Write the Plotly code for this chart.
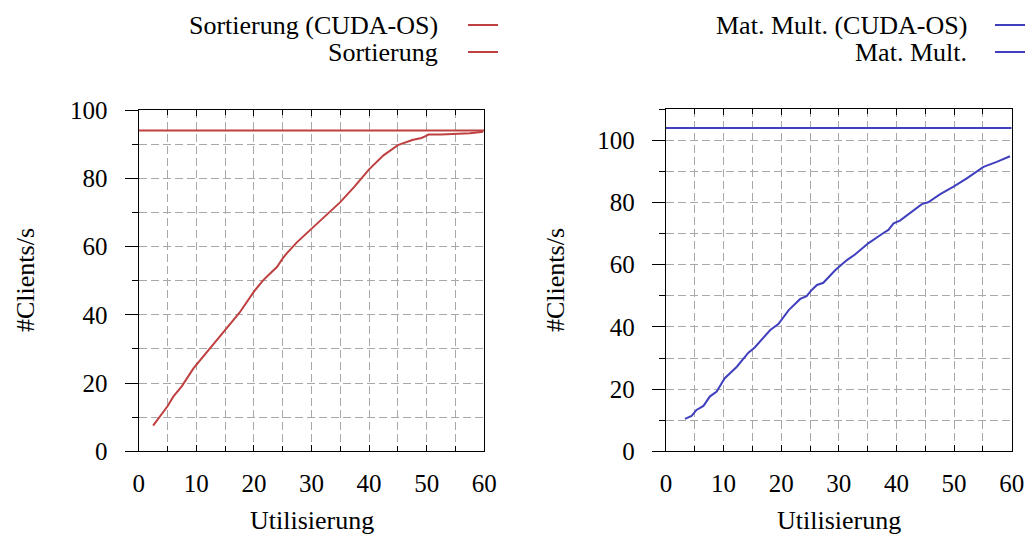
import plotly.graph_objects as go

# ---- data ----
sort_x = [2.5, 5, 6, 7.5, 9.5, 10, 12.5, 13, 15, 16.4, 17.5, 20, 21.6, 22.5, 24, 25, 25.7, 27.5,
          29.7, 30, 32.5, 33.8, 35, 37.5, 39.6, 40, 42.5, 45, 47.5, 49.1, 50, 50.3, 52.5, 54.7, 55, 57.5, 59.8]
sort_y = [7.5, 13.2, 16.0, 19.1, 24.3, 25.3, 30.4, 31.6, 35.5, 38.4, 40.6, 46.8, 50.1, 51.6, 54.0, 56.5, 58.0, 61.3,
          64.8, 65.3, 69.0, 71.1, 73.0, 77.6, 81.9, 82.6, 86.7, 89.7, 91.2, 91.8, 92.5, 92.8, 92.8, 92.9, 92.9, 93.2, 93.6]
sort_base = 94.0

mm_x = [3.3, 4.45, 5.3, 6.5, 7.6, 8.8, 10.2, 12.3, 14.3, 15.4, 18.1, 19.5, 21.3, 23.3, 24.4, 25.3, 26.2, 27.3,
        29.4, 31.4, 32.8, 35.1, 37.8, 38.6, 39.5, 40.6, 44.4, 45.5, 47.6, 49.9, 52.2, 54.2, 55.1, 57.4, 59.7]
mm_y = [10.4, 11.35, 13.3, 14.6, 17.6, 19.2, 23.5, 27.2, 31.7, 33.4, 39.0, 40.9, 45.4, 49.0, 49.9, 51.9, 53.5, 54.2,
        58.3, 61.5, 63.3, 66.9, 70.3, 71.2, 73.3, 74.2, 79.5, 80.1, 82.7, 85.1, 87.8, 90.2, 91.5, 93.1, 94.9]
mm_base = 104.0

x_range = [0, 60]
x_ticks = [0, 10, 20, 30, 40, 50, 60]
y_ticks = [0, 20, 40, 60, 80, 100]

RED = "#BF4040"
BLUE = "#4040BF"
FONT = "Liberation Serif"
FS_TICK = 25
FS_TEXT = 26
GRID = "#a8a8a8"

fig = go.Figure()
fig.add_trace(go.Scatter(x=sort_x, y=sort_y, mode="lines", line=dict(color=RED, width=2),
                         name="Sortierung (CUDA-OS)", xaxis="x", yaxis="y", showlegend=False))
fig.add_trace(go.Scatter(x=x_range, y=[sort_base, sort_base], mode="lines", line=dict(color=RED, width=2),
                         name="Sortierung", xaxis="x", yaxis="y", showlegend=False))
fig.add_trace(go.Scatter(x=mm_x, y=mm_y, mode="lines", line=dict(color=BLUE, width=2),
                         name="Mat. Mult. (CUDA-OS)", xaxis="x2", yaxis="y2", showlegend=False))
fig.add_trace(go.Scatter(x=x_range, y=[mm_base, mm_base], mode="lines", line=dict(color=BLUE, width=2),
                         name="Mat. Mult.", xaxis="x2", yaxis="y2", showlegend=False))


def xaxis(domain, anchor):
    return dict(domain=domain, anchor=anchor, range=x_range, tickvals=x_ticks, automargin=False,
                showline=True, linecolor="black", linewidth=1.3, mirror="ticks",
                ticks="inside", ticklen=6, tickcolor="black", tickwidth=1.2,
                showgrid=True, gridcolor=GRID, griddash="8px,4px", gridwidth=1,
                minor=dict(dtick=5, tick0=0, ticks="inside", ticklen=5, tickcolor="black",
                           showgrid=True, gridcolor=GRID, griddash="8px,4px", gridwidth=1),
                zeroline=False, ticklabelstandoff=10,
                tickfont=dict(family=FONT, size=FS_TICK, color="black"))


def yaxis(domain, anchor, rng):
    return dict(domain=domain, anchor=anchor, range=rng, tickvals=y_ticks, automargin=False,
                showline=True, linecolor="black", linewidth=1.3, mirror=True,
                ticks="outside", ticklen=13, tickcolor="black", tickwidth=1.2,
                showgrid=True, gridcolor=GRID, griddash="8px,4px", gridwidth=1,
                minor=dict(dtick=10, tick0=0, ticks="outside", ticklen=6, tickcolor="black",
                           showgrid=True, gridcolor=GRID, griddash="8px,4px", gridwidth=1),
                zeroline=False, ticklabelstandoff=12,
                tickfont=dict(family=FONT, size=FS_TICK, color="black"))


fig.update_layout(
    width=1026, height=534, autosize=False,
    margin=dict(l=0, r=0, t=0, b=0, pad=0, autoexpand=False),
    paper_bgcolor="white", plot_bgcolor="white",
    font=dict(family=FONT, size=FS_TEXT, color="black"),
    xaxis=xaxis([0.1352, 0.4720], "y"),
    yaxis=yaxis([0.1549, 0.7940], "x", [0, 100]),
    xaxis2=xaxis([0.6491, 0.9861], "y2"),
    yaxis2=yaxis([0.1549, 0.7953], "x2", [0, 110]),
)

ann = []
# axis titles
for xc in (25 / 1026, 555 / 1026):
    ann.append(dict(text="#Clients/s", x=xc, y=1 - 280 / 534, xref="paper", yref="paper",
                    textangle=-90, showarrow=False, xanchor="center", yanchor="middle",
                    font=dict(family=FONT, size=FS_TEXT)))
for xc in (312 / 1026, 839 / 1026):
    ann.append(dict(text="Utilisierung", x=xc, y=1 - 520 / 534, xref="paper", yref="paper",
                    showarrow=False, xanchor="center", yanchor="middle",
                    font=dict(family=FONT, size=FS_TEXT)))

# legends (text right, sample line at right)
legend_items = [
    ("Sortierung (CUDA-OS)", 440, 25, RED, 468, 498),
    ("Sortierung", 440, 52, RED, 468, 498),
    ("Mat. Mult. (CUDA-OS)", 969, 25, BLUE, 995, 1025),
    ("Mat. Mult.", 969, 52, BLUE, 995, 1025),
]
shapes = []
for text, xr, yc, col, l0, l1 in legend_items:
    ann.append(dict(text=text, x=xr / 1026, y=1 - yc / 534, xref="paper", yref="paper",
                    showarrow=False, xanchor="right", yanchor="middle",
                    font=dict(family=FONT, size=FS_TEXT)))
    shapes.append(dict(type="line", xref="paper", yref="paper", x0=l0 / 1026, x1=l1 / 1026,
                       y0=1 - yc / 534, y1=1 - yc / 534, line=dict(color=col, width=2)))

fig.update_layout(annotations=ann, shapes=shapes)
fig.write_html("out.html")
